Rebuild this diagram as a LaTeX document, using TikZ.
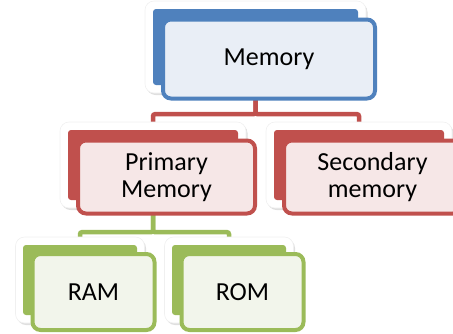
\documentclass[tikz,border=0pt]{standalone}
\usepackage{fontspec}
\setmainfont{Carlito}
\usetikzlibrary{positioning,shadows,backgrounds}
\definecolor{memblue}{HTML}{4F81BD}
\definecolor{memred}{HTML}{C0504D}
\definecolor{memgreen}{HTML}{9BBB59}
\definecolor{bluetint}{HTML}{E9EEF6}
\definecolor{redtint}{HTML}{F6E7E7}
\definecolor{greentint}{HTML}{F2F5EB}
\tikzset{
    card/.style={rectangle,rounded corners=9pt,fill=white,inner sep=0pt,
        draw=black!6,line width=0.6pt,
        drop shadow={shadow xshift=1.5pt,shadow yshift=-2pt,opacity=.25}},
    back/.style={rectangle,rounded corners=3pt,fill=#1,inner sep=0pt},
    front/.style={rectangle,rounded corners=8pt,draw=#1,line width=4pt,
        inner sep=0pt,align=center,font=\fontsize{26}{27.5}\selectfont,
        xshift=13.5pt,yshift=-12pt},
    link/.style={draw=#1,line width=4.5pt,rounded corners=2pt}
}

\begin{document}
\begin{tikzpicture}[x=1pt,y=-1pt]
    \useasboundingbox (0,0) rectangle (453,333);

    % top level
    \node[card,minimum width=221pt,minimum height=92pt] (memcard) at (255.5,47) {};
    \node[back=memblue,minimum width=205pt,minimum height=76pt] (mem) at (memcard) {};
    \node[front=memblue,fill=bluetint,minimum width=212pt,minimum height=79pt] (memory) at (mem) {Memory};

    % second level
    \node[card,minimum width=186pt,minimum height=86pt] (primcard) at (153,165) {};
    \node[back=memred,minimum width=170pt,minimum height=70pt] (prim) at (primcard) {};
    \node[front=memred,fill=redtint,minimum width=177pt,minimum height=73pt] (primary) at (prim) {Primary\\Memory};

    \node[card,minimum width=186pt,minimum height=86pt] (seccard) at (359,165) {};
    \node[back=memred,minimum width=170pt,minimum height=70pt] (sec) at (seccard) {};
    \node[front=memred,fill=redtint,minimum width=177pt,minimum height=73pt] (secondary) at (sec) {Secondary\\memory};

    % third level
    \node[card,minimum width=129pt,minimum height=86pt] (ramcard) at (80,280) {};
    \node[back=memgreen,minimum width=114pt,minimum height=70pt] (ram) at (ramcard) {};
    \node[front=memgreen,fill=greentint,minimum width=122pt,minimum height=76pt] (ramtext) at (ram) {RAM};

    \node[card,minimum width=129pt,minimum height=86pt] (romcard) at (229,280) {};
    \node[back=memgreen,minimum width=114pt,minimum height=70pt] (rom) at (romcard) {};
    \node[front=memgreen,fill=greentint,minimum width=122pt,minimum height=76pt] (romtext) at (rom) {ROM};

    \begin{pgfonlayer}{background}
        \draw[link=memred] (mem.south) -- ++(0,29) -| (prim.north);
        \draw[link=memred] (mem.south) -- ++(0,29) -| (sec.north);
        \draw[link=memgreen] (prim.south) -- ++(0,32) -| (ram.north);
        \draw[link=memgreen] (prim.south) -- ++(0,32) -| (rom.north);
    \end{pgfonlayer}
\end{tikzpicture}
\end{document}
